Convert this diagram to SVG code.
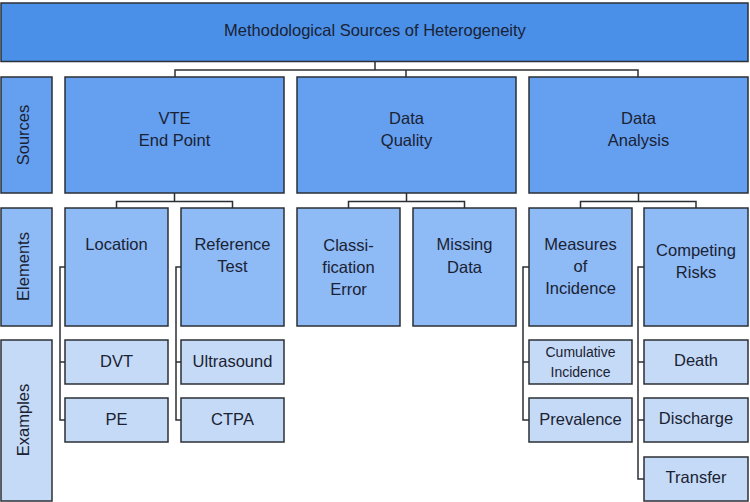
<svg xmlns="http://www.w3.org/2000/svg" width="750" height="502" viewBox="0 0 750 502">
<style>
rect{stroke:#2b2f36;stroke-width:1.5}
.t0{fill:#4a90e9}
.t1{fill:#659ff0}
.t2{fill:#8ebaf6}
.t3{fill:#c5daf6}
text{font-family:"Liberation Sans",Arial,sans-serif;font-size:16.5px;fill:#1a2233;text-anchor:middle}
.sm{font-size:14px}
.conn path{fill:none;stroke:#2b2f36;stroke-width:1.5}
</style>
<rect width="750" height="502" fill="#ffffff" style="stroke:none"/>
<g class="conn">
<path d="M375,62V70M175,77V70H638V77M406,70V77"/>
<path d="M174.5,193V201.5M116.5,208V201.5H232.5V208"/>
<path d="M406.5,193V201.5M348.5,208V201.5H464.5V208"/>
<path d="M638.5,193V201.5M580.5,208V201.5H696V208"/>
<path d="M65,267H60V420H65M60,362H65"/>
<path d="M181,267H176V420H181M176,362H181"/>
<path d="M529,267H523V420H529M523,362H529"/>
<path d="M644,267H638V479H644M638,362H644M638,420H644"/>
</g>
<g id="title"><rect class="t0" x="1" y="3" width="747" height="58.5"/><text x="375" y="36">Methodological Sources of Heterogeneity</text></g>
<g id="lbl-sources"><rect class="t1" x="1" y="77" width="51" height="116"/><text transform="translate(29,135) rotate(-90)">Sources</text></g>
<g id="lbl-elements"><rect class="t2" x="1" y="208" width="51" height="118"/><text transform="translate(29,266.5) rotate(-90)">Elements</text></g>
<g id="lbl-examples"><rect class="t3" x="1" y="340" width="51" height="161"/><text transform="translate(29,420) rotate(-90)">Examples</text></g>
<g id="vte"><rect class="t1" x="65" y="77" width="219" height="116"/><text x="174.5" y="124">VTE</text><text x="174.5" y="146">End Point</text></g>
<g id="dq"><rect class="t1" x="297" y="77" width="219" height="116"/><text x="406.5" y="124">Data</text><text x="406.5" y="146">Quality</text></g>
<g id="da"><rect class="t1" x="529" y="77" width="219" height="116"/><text x="638.5" y="124">Data</text><text x="638.5" y="146">Analysis</text></g>
<g id="location"><rect class="t2" x="65" y="208" width="103" height="118"/><text x="116.5" y="250">Location</text></g>
<g id="reftest"><rect class="t2" x="181" y="208" width="103" height="118"/><text x="232.5" y="250">Reference</text><text x="232.5" y="272">Test</text></g>
<g id="classerr"><rect class="t2" x="297" y="208" width="103" height="118"/><text x="348.5" y="251">Classi-</text><text x="348.5" y="273">fication</text><text x="348.5" y="295">Error</text></g>
<g id="missing"><rect class="t2" x="413" y="208" width="103" height="118"/><text x="464.5" y="250">Missing</text><text x="464.5" y="273">Data</text></g>
<g id="measures"><rect class="t2" x="529" y="208" width="103" height="118"/><text x="580.5" y="250">Measures</text><text x="580.5" y="272">of</text><text x="580.5" y="294">Incidence</text></g>
<g id="competing"><rect class="t2" x="644" y="208" width="104" height="118"/><text x="696" y="256">Competing</text><text x="696" y="278">Risks</text></g>
<g id="dvt"><rect class="t3" x="65" y="340" width="103" height="44"/><text x="116.5" y="367">DVT</text></g>
<g id="pe"><rect class="t3" x="65" y="398" width="103" height="44"/><text x="116.5" y="425">PE</text></g>
<g id="ultrasound"><rect class="t3" x="181" y="340" width="103" height="44"/><text x="232.5" y="367">Ultrasound</text></g>
<g id="ctpa"><rect class="t3" x="181" y="398" width="103" height="44"/><text x="232.5" y="425">CTPA</text></g>
<g id="cuminc"><rect class="t3" x="529" y="340" width="103" height="44"/><text class="sm" x="580.5" y="357">Cumulative</text><text class="sm" x="580.5" y="377">Incidence</text></g>
<g id="prevalence"><rect class="t3" x="529" y="398" width="103" height="44"/><text x="580.5" y="425">Prevalence</text></g>
<g id="death"><rect class="t3" x="644" y="340" width="104" height="44"/><text x="696" y="366">Death</text></g>
<g id="discharge"><rect class="t3" x="644" y="398" width="104" height="44"/><text x="696" y="424">Discharge</text></g>
<g id="transfer"><rect class="t3" x="644" y="457" width="104" height="44"/><text x="696" y="483">Transfer</text></g>
</svg>
